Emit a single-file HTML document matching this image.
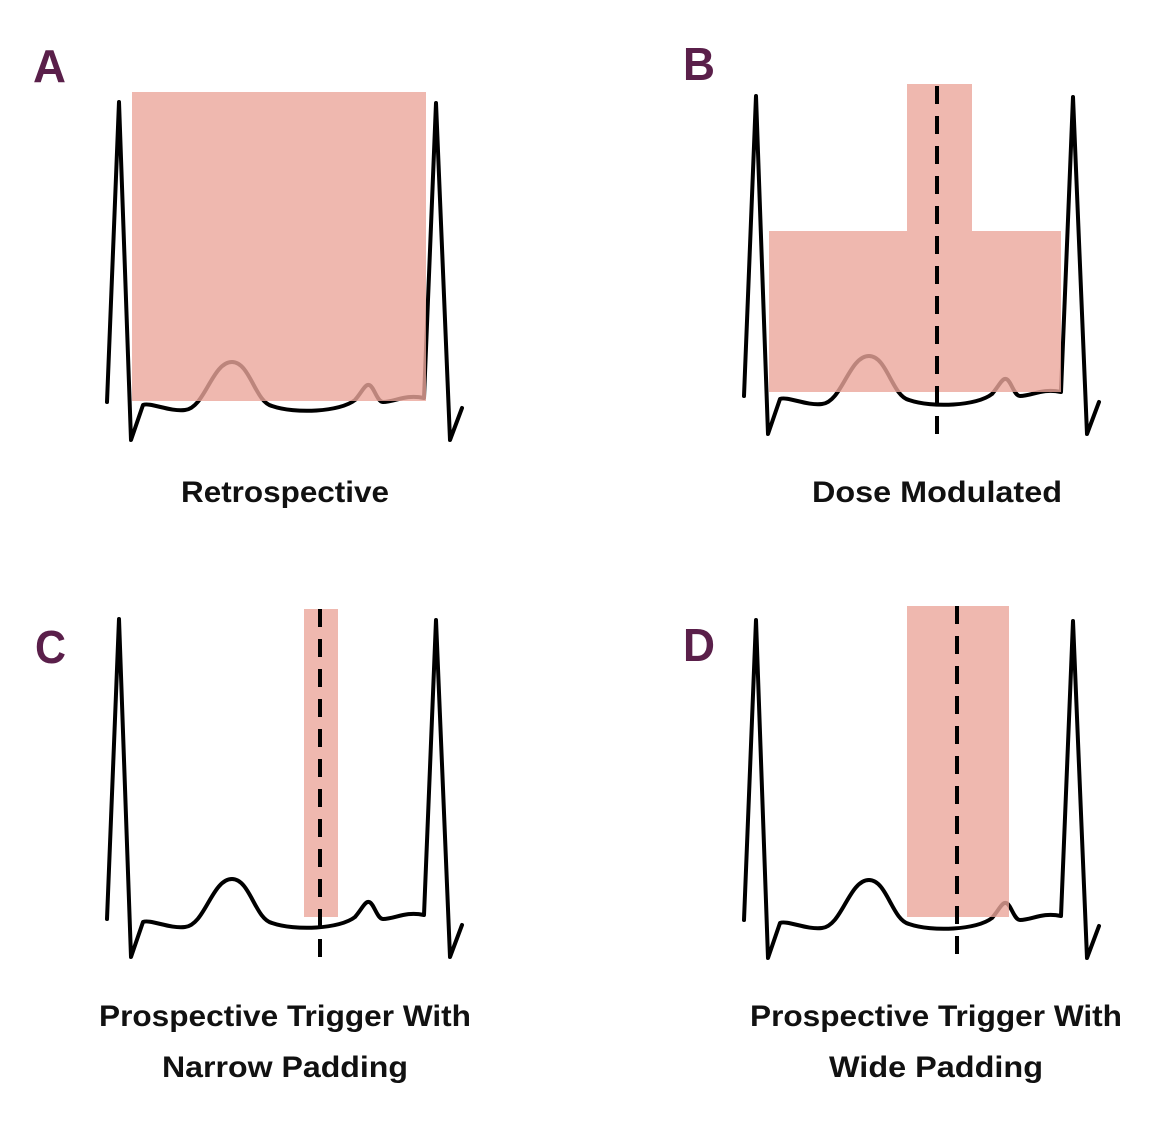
<!DOCTYPE html>
<html><head><meta charset="utf-8"><style>html,body{margin:0;padding:0;background:#fff}</style></head>
<body>
<svg width="1154" height="1128" viewBox="0 0 1154 1128" xmlns="http://www.w3.org/2000/svg">
<defs>
<path id="ecg" d="M107,402 L119,102 L131,440 L143,405 C150,402 170,412 185,410 C205,408 212,362 232,362 C250,362 255,402 272,406 C295,414 340,412 355,400 C362,392 365,384 369,385 C374,386 377,402 383,402 C395,402 405,394 424,398 L436,103 L450,440 L462,408" fill="none" stroke="#000" stroke-width="4" stroke-linejoin="round" stroke-linecap="round"/>
</defs>
<g font-family="Liberation Sans, sans-serif" font-weight="bold" fill="#5a1f4a" font-size="46">
<text x="33" y="82" textLength="33" lengthAdjust="spacingAndGlyphs">A</text>
<text x="683" y="80" textLength="32" lengthAdjust="spacingAndGlyphs">B</text>
<text x="35" y="663" textLength="31" lengthAdjust="spacingAndGlyphs">C</text>
<text x="683" y="661" textLength="32" lengthAdjust="spacingAndGlyphs">D</text>
</g>
<!-- A -->
<use href="#ecg"/>
<rect x="132" y="92" width="294" height="309" fill="#eba69b" opacity="0.8"/>
<!-- B -->
<use href="#ecg" transform="translate(637,-6)"/>
<path d="M769,231 H907 V84 H972 V231 H1061 V392 H769 Z" fill="#eba69b" opacity="0.8"/>
<line x1="937" y1="86" x2="937" y2="437" stroke="#000" stroke-width="4" stroke-dasharray="18,12"/>
<!-- C -->
<use href="#ecg" transform="translate(0,517)"/>
<rect x="304" y="609" width="34" height="308" fill="#eba69b" opacity="0.8"/>
<line x1="320" y1="609" x2="320" y2="957" stroke="#000" stroke-width="4" stroke-dasharray="18,12"/>
<!-- D -->
<use href="#ecg" transform="translate(637,518)"/>
<rect x="907" y="606" width="102" height="311" fill="#eba69b" opacity="0.8"/>
<line x1="957" y1="606" x2="957" y2="957" stroke="#000" stroke-width="4" stroke-dasharray="18,12"/>
<g font-family="Liberation Sans, sans-serif" font-weight="bold" fill="#111" font-size="30" text-anchor="middle">
<text x="285" y="502" textLength="208" lengthAdjust="spacingAndGlyphs">Retrospective</text>
<text x="937" y="502" textLength="250" lengthAdjust="spacingAndGlyphs">Dose Modulated</text>
<text x="285" y="1026" textLength="372" lengthAdjust="spacingAndGlyphs">Prospective Trigger With</text>
<text x="285" y="1077" textLength="246" lengthAdjust="spacingAndGlyphs">Narrow Padding</text>
<text x="936" y="1026" textLength="372" lengthAdjust="spacingAndGlyphs">Prospective Trigger With</text>
<text x="936" y="1077" textLength="214" lengthAdjust="spacingAndGlyphs">Wide Padding</text>
</g>
</svg>
</body></html>
